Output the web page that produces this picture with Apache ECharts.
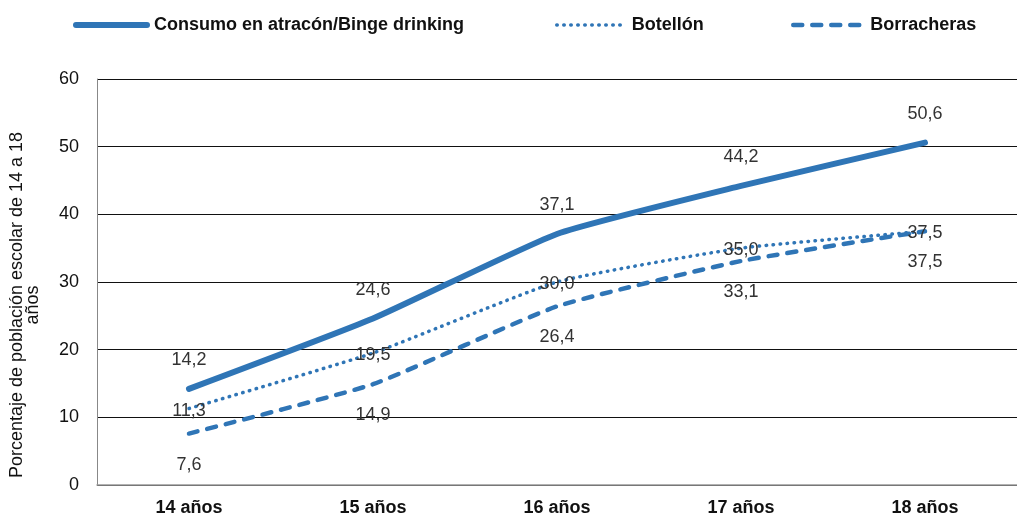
<!DOCTYPE html>
<html>
<head>
<meta charset="utf-8">
<script src="https://cdn.jsdelivr.net/npm/echarts@6/dist/echarts.min.js"></script>
<style>
html, body { margin: 0; padding: 0; background: #fff; }
#chart { width: 1017px; height: 518px; }
</style>
</head>
<body>
<div id="chart"></div>
<script>
// datos del gráfico
var categorias = ["14 años", "15 años", "16 años", "17 años", "18 años"];
var binge = [14.2, 24.6, 37.1, 44.2, 50.6];
var botellon = [11.3, 19.5, 30.0, 35.0, 37.5];
var borracheras = [7.6, 14.9, 26.4, 33.1, 37.5];
var nombres = ["Consumo en atracón/Binge drinking", "Botellón", "Borracheras"];

var azul = "#2f75b6";
var fuente = "'Liberation Sans', Arial, sans-serif";

// estilos de línea (serie y leyenda)
var estiloBinge = { color: azul, width: 6, cap: "round" };
var estiloBotellon = { color: azul, width: 3.5, type: [0.5, 6.5], cap: "round" };
var estiloBorracheras = { color: azul, width: 4.5, type: [9, 10], cap: "round" };

function fmt(p) {
    return p.value.toFixed(1).replace(".", ",");
}

var myChart = echarts.init(document.getElementById("chart"));

function leyenda(nombre, x, ancho, estilo) {
    return {
        data: [nombre],
        left: x,
        top: 16,
        padding: 0,
        itemWidth: ancho,
        itemHeight: 14,
        itemGap: 6,
        itemStyle: { opacity: 0 },
        lineStyle: estilo,
        textStyle: { fontFamily: fuente, fontSize: 18, fontWeight: "bold", color: "#111", padding: [0, 0, 0, 2] }
    };
}

var etiqueta = {
    show: true,
    formatter: fmt,
    fontFamily: fuente,
    fontSize: 18,
    color: "#333"
};

var option = {
    animation: false,
    textStyle: { fontFamily: fuente },
    legend: [
        leyenda(nombres[0], 73, 71, estiloBinge),
        leyenda(nombres[1], 555, 68, estiloBotellon),
        leyenda(nombres[2], 791, 70, estiloBorracheras)
    ],
    grid: { left: 93, top: 79, bottom: 33, width: 935 },
    xAxis: {
        type: "category",
        data: categorias,
        axisLine: { lineStyle: { color: "#999", width: 1.5 } },
        axisTick: { show: false },
        axisLabel: { fontFamily: fuente, fontSize: 18, fontWeight: "bold", color: "#111", margin: 14 }
    },
    yAxis: {
        type: "value",
        min: 0,
        max: 60,
        interval: 10,
        name: "Porcentaje de población escolar de 14 a 18\naños",
        nameLocation: "middle",
        nameGap: 56,
        nameRotate: 90,
        nameTextStyle: { fontFamily: fuente, fontSize: 18, color: "#111", lineHeight: 16, padding: [0, 46, 0, 0] },
        axisLine: { show: true, lineStyle: { color: "#888" } },
        axisTick: { show: false },
        splitLine: { lineStyle: { color: "#111", width: 1 } },
        axisLabel: { fontFamily: fuente, fontSize: 18, color: "#111", margin: 18 }
    },
    series: [
        {
            name: nombres[0],
            type: "line",
            data: binge,
            smooth: 0.15,
            symbol: "circle",
            symbolSize: 0,
            lineStyle: estiloBinge,
            itemStyle: { color: azul },
            label: Object.assign({ position: "top", distance: 20 }, etiqueta)
        },
        {
            name: nombres[1],
            type: "line",
            data: botellon,
            smooth: 0.15,
            symbol: "circle",
            symbolSize: 0,
            lineStyle: estiloBotellon,
            itemStyle: { color: azul },
            label: Object.assign({ position: "inside", offset: [0, 2] }, etiqueta)
        },
        {
            name: nombres[2],
            type: "line",
            data: borracheras,
            smooth: 0.15,
            symbol: "circle",
            symbolSize: 0,
            lineStyle: estiloBorracheras,
            itemStyle: { color: azul },
            label: Object.assign({ position: "bottom", distance: 22 }, etiqueta)
        }
    ]
};

myChart.setOption(option);
</script>
</body>
</html>
